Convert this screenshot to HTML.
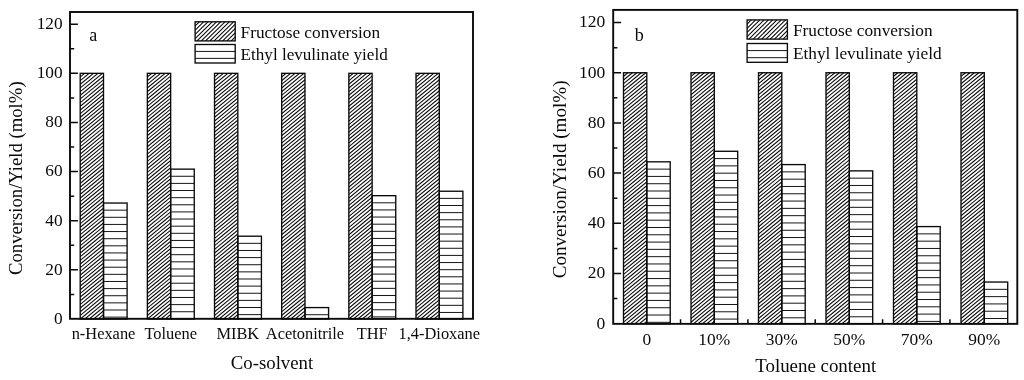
<!DOCTYPE html><html><head><meta charset="utf-8"><title>Figure</title>
<style>html,body{margin:0;padding:0;background:#fff}svg{display:block}text{font-family:'Liberation Serif', 'Times New Roman', serif;fill:#0a0a0a}</style></head><body>
<svg width="1024" height="380" viewBox="0 0 1024 380">
<rect width="1024" height="380" fill="#fff"/>
<clipPath id="c1"><rect x="80.20" y="73.33" width="23.30" height="245.67"/></clipPath>
<path clip-path="url(#c1)" d="M-222.27 319.00L75.75 73.33M-217.82 319.00L80.20 73.33M-213.37 319.00L84.65 73.33M-208.92 319.00L89.10 73.33M-204.47 319.00L93.55 73.33M-200.02 319.00L98.00 73.33M-195.57 319.00L102.45 73.33M-191.12 319.00L106.90 73.33M-186.67 319.00L111.35 73.33M-182.22 319.00L115.80 73.33M-177.77 319.00L120.25 73.33M-173.32 319.00L124.70 73.33M-168.87 319.00L129.15 73.33M-164.42 319.00L133.60 73.33M-159.97 319.00L138.05 73.33M-155.52 319.00L142.50 73.33M-151.07 319.00L146.95 73.33M-146.62 319.00L151.40 73.33M-142.17 319.00L155.85 73.33M-137.72 319.00L160.30 73.33M-133.27 319.00L164.75 73.33M-128.82 319.00L169.20 73.33M-124.37 319.00L173.65 73.33M-119.92 319.00L178.10 73.33M-115.47 319.00L182.55 73.33M-111.02 319.00L187.00 73.33M-106.57 319.00L191.45 73.33M-102.12 319.00L195.90 73.33M-97.67 319.00L200.35 73.33M-93.22 319.00L204.80 73.33M-88.77 319.00L209.25 73.33M-84.32 319.00L213.70 73.33M-79.87 319.00L218.15 73.33M-75.42 319.00L222.60 73.33M-70.97 319.00L227.05 73.33M-66.52 319.00L231.50 73.33M-62.07 319.00L235.95 73.33M-57.62 319.00L240.40 73.33M-53.17 319.00L244.85 73.33M-48.72 319.00L249.30 73.33M-44.27 319.00L253.75 73.33M-39.82 319.00L258.20 73.33M-35.37 319.00L262.65 73.33M-30.92 319.00L267.10 73.33M-26.47 319.00L271.55 73.33M-22.02 319.00L276.00 73.33M-17.57 319.00L280.45 73.33M-13.12 319.00L284.90 73.33M-8.67 319.00L289.35 73.33M-4.22 319.00L293.80 73.33M0.23 319.00L298.25 73.33M4.68 319.00L302.70 73.33M9.13 319.00L307.15 73.33M13.58 319.00L311.60 73.33M18.03 319.00L316.05 73.33M22.48 319.00L320.50 73.33M26.93 319.00L324.95 73.33M31.38 319.00L329.40 73.33M35.83 319.00L333.85 73.33M40.28 319.00L338.30 73.33M44.73 319.00L342.75 73.33M49.18 319.00L347.20 73.33M53.63 319.00L351.65 73.33M58.08 319.00L356.10 73.33M62.53 319.00L360.55 73.33M66.98 319.00L365.00 73.33M71.43 319.00L369.45 73.33M75.88 319.00L373.90 73.33M80.33 319.00L378.35 73.33M84.78 319.00L382.80 73.33M89.23 319.00L387.25 73.33M93.68 319.00L391.70 73.33M98.13 319.00L396.15 73.33M102.58 319.00L400.60 73.33M107.03 319.00L405.05 73.33" stroke="#0a0a0a" stroke-width="1.08" fill="none"/>
<rect x="80.20" y="73.33" width="23.30" height="245.67" fill="none" stroke="#0a0a0a" stroke-width="1.35"/>
<path d="M103.50 210.17H127.10M103.50 217.30H127.10M103.50 224.43H127.10M103.50 231.56H127.10M103.50 238.69H127.10M103.50 245.82H127.10M103.50 252.95H127.10M103.50 260.08H127.10M103.50 267.21H127.10M103.50 274.34H127.10M103.50 281.47H127.10M103.50 288.60H127.10M103.50 295.73H127.10M103.50 302.86H127.10M103.50 309.99H127.10M103.50 317.12H127.10" stroke="#161616" stroke-width="1.0" fill="none"/>
<rect x="103.50" y="203.04" width="23.60" height="115.96" fill="none" stroke="#0a0a0a" stroke-width="1.35"/>
<clipPath id="c2"><rect x="147.36" y="73.33" width="23.30" height="245.67"/></clipPath>
<path clip-path="url(#c2)" d="M-155.11 319.00L142.91 73.33M-150.66 319.00L147.36 73.33M-146.21 319.00L151.81 73.33M-141.76 319.00L156.26 73.33M-137.31 319.00L160.71 73.33M-132.86 319.00L165.16 73.33M-128.41 319.00L169.61 73.33M-123.96 319.00L174.06 73.33M-119.51 319.00L178.51 73.33M-115.06 319.00L182.96 73.33M-110.61 319.00L187.41 73.33M-106.16 319.00L191.86 73.33M-101.71 319.00L196.31 73.33M-97.26 319.00L200.76 73.33M-92.81 319.00L205.21 73.33M-88.36 319.00L209.66 73.33M-83.91 319.00L214.11 73.33M-79.46 319.00L218.56 73.33M-75.01 319.00L223.01 73.33M-70.56 319.00L227.46 73.33M-66.11 319.00L231.91 73.33M-61.66 319.00L236.36 73.33M-57.21 319.00L240.81 73.33M-52.76 319.00L245.26 73.33M-48.31 319.00L249.71 73.33M-43.86 319.00L254.16 73.33M-39.41 319.00L258.61 73.33M-34.96 319.00L263.06 73.33M-30.51 319.00L267.51 73.33M-26.06 319.00L271.96 73.33M-21.61 319.00L276.41 73.33M-17.16 319.00L280.86 73.33M-12.71 319.00L285.31 73.33M-8.26 319.00L289.76 73.33M-3.81 319.00L294.21 73.33M0.64 319.00L298.66 73.33M5.09 319.00L303.11 73.33M9.54 319.00L307.56 73.33M13.99 319.00L312.01 73.33M18.44 319.00L316.46 73.33M22.89 319.00L320.91 73.33M27.34 319.00L325.36 73.33M31.79 319.00L329.81 73.33M36.24 319.00L334.26 73.33M40.69 319.00L338.71 73.33M45.14 319.00L343.16 73.33M49.59 319.00L347.61 73.33M54.04 319.00L352.06 73.33M58.49 319.00L356.51 73.33M62.94 319.00L360.96 73.33M67.39 319.00L365.41 73.33M71.84 319.00L369.86 73.33M76.29 319.00L374.31 73.33M80.74 319.00L378.76 73.33M85.19 319.00L383.21 73.33M89.64 319.00L387.66 73.33M94.09 319.00L392.11 73.33M98.54 319.00L396.56 73.33M102.99 319.00L401.01 73.33M107.44 319.00L405.46 73.33M111.89 319.00L409.91 73.33M116.34 319.00L414.36 73.33M120.79 319.00L418.81 73.33M125.24 319.00L423.26 73.33M129.69 319.00L427.71 73.33M134.14 319.00L432.16 73.33M138.59 319.00L436.61 73.33M143.04 319.00L441.06 73.33M147.49 319.00L445.51 73.33M151.94 319.00L449.96 73.33M156.39 319.00L454.41 73.33M160.84 319.00L458.86 73.33M165.29 319.00L463.31 73.33M169.74 319.00L467.76 73.33M174.19 319.00L472.21 73.33" stroke="#0a0a0a" stroke-width="1.08" fill="none"/>
<rect x="147.36" y="73.33" width="23.30" height="245.67" fill="none" stroke="#0a0a0a" stroke-width="1.35"/>
<path d="M170.66 176.27H194.26M170.66 183.40H194.26M170.66 190.53H194.26M170.66 197.66H194.26M170.66 204.79H194.26M170.66 211.92H194.26M170.66 219.05H194.26M170.66 226.18H194.26M170.66 233.31H194.26M170.66 240.44H194.26M170.66 247.57H194.26M170.66 254.70H194.26M170.66 261.83H194.26M170.66 268.96H194.26M170.66 276.09H194.26M170.66 283.22H194.26M170.66 290.35H194.26M170.66 297.48H194.26M170.66 304.61H194.26M170.66 311.74H194.26" stroke="#161616" stroke-width="1.0" fill="none"/>
<rect x="170.66" y="169.14" width="23.60" height="149.86" fill="none" stroke="#0a0a0a" stroke-width="1.35"/>
<clipPath id="c3"><rect x="214.52" y="73.33" width="23.30" height="245.67"/></clipPath>
<path clip-path="url(#c3)" d="M-87.95 319.00L210.07 73.33M-83.50 319.00L214.52 73.33M-79.05 319.00L218.97 73.33M-74.60 319.00L223.42 73.33M-70.15 319.00L227.87 73.33M-65.70 319.00L232.32 73.33M-61.25 319.00L236.77 73.33M-56.80 319.00L241.22 73.33M-52.35 319.00L245.67 73.33M-47.90 319.00L250.12 73.33M-43.45 319.00L254.57 73.33M-39.00 319.00L259.02 73.33M-34.55 319.00L263.47 73.33M-30.10 319.00L267.92 73.33M-25.65 319.00L272.37 73.33M-21.20 319.00L276.82 73.33M-16.75 319.00L281.27 73.33M-12.30 319.00L285.72 73.33M-7.85 319.00L290.17 73.33M-3.40 319.00L294.62 73.33M1.05 319.00L299.07 73.33M5.50 319.00L303.52 73.33M9.95 319.00L307.97 73.33M14.40 319.00L312.42 73.33M18.85 319.00L316.87 73.33M23.30 319.00L321.32 73.33M27.75 319.00L325.77 73.33M32.20 319.00L330.22 73.33M36.65 319.00L334.67 73.33M41.10 319.00L339.12 73.33M45.55 319.00L343.57 73.33M50.00 319.00L348.02 73.33M54.45 319.00L352.47 73.33M58.90 319.00L356.92 73.33M63.35 319.00L361.37 73.33M67.80 319.00L365.82 73.33M72.25 319.00L370.27 73.33M76.70 319.00L374.72 73.33M81.15 319.00L379.17 73.33M85.60 319.00L383.62 73.33M90.05 319.00L388.07 73.33M94.50 319.00L392.52 73.33M98.95 319.00L396.97 73.33M103.40 319.00L401.42 73.33M107.85 319.00L405.87 73.33M112.30 319.00L410.32 73.33M116.75 319.00L414.77 73.33M121.20 319.00L419.22 73.33M125.65 319.00L423.67 73.33M130.10 319.00L428.12 73.33M134.55 319.00L432.57 73.33M139.00 319.00L437.02 73.33M143.45 319.00L441.47 73.33M147.90 319.00L445.92 73.33M152.35 319.00L450.37 73.33M156.80 319.00L454.82 73.33M161.25 319.00L459.27 73.33M165.70 319.00L463.72 73.33M170.15 319.00L468.17 73.33M174.60 319.00L472.62 73.33M179.05 319.00L477.07 73.33M183.50 319.00L481.52 73.33M187.95 319.00L485.97 73.33M192.40 319.00L490.42 73.33M196.85 319.00L494.87 73.33M201.30 319.00L499.32 73.33M205.75 319.00L503.77 73.33M210.20 319.00L508.22 73.33M214.65 319.00L512.67 73.33M219.10 319.00L517.12 73.33M223.55 319.00L521.57 73.33M228.00 319.00L526.02 73.33M232.45 319.00L530.47 73.33M236.90 319.00L534.92 73.33M241.35 319.00L539.37 73.33" stroke="#0a0a0a" stroke-width="1.08" fill="none"/>
<rect x="214.52" y="73.33" width="23.30" height="245.67" fill="none" stroke="#0a0a0a" stroke-width="1.35"/>
<path d="M237.82 243.34H261.42M237.82 250.47H261.42M237.82 257.60H261.42M237.82 264.73H261.42M237.82 271.86H261.42M237.82 278.99H261.42M237.82 286.12H261.42M237.82 293.25H261.42M237.82 300.38H261.42M237.82 307.51H261.42M237.82 314.64H261.42" stroke="#161616" stroke-width="1.0" fill="none"/>
<rect x="237.82" y="236.21" width="23.60" height="82.79" fill="none" stroke="#0a0a0a" stroke-width="1.35"/>
<clipPath id="c4"><rect x="281.68" y="73.33" width="23.30" height="245.67"/></clipPath>
<path clip-path="url(#c4)" d="M-20.79 319.00L277.23 73.33M-16.34 319.00L281.68 73.33M-11.89 319.00L286.13 73.33M-7.44 319.00L290.58 73.33M-2.99 319.00L295.03 73.33M1.46 319.00L299.48 73.33M5.91 319.00L303.93 73.33M10.36 319.00L308.38 73.33M14.81 319.00L312.83 73.33M19.26 319.00L317.28 73.33M23.71 319.00L321.73 73.33M28.16 319.00L326.18 73.33M32.61 319.00L330.63 73.33M37.06 319.00L335.08 73.33M41.51 319.00L339.53 73.33M45.96 319.00L343.98 73.33M50.41 319.00L348.43 73.33M54.86 319.00L352.88 73.33M59.31 319.00L357.33 73.33M63.76 319.00L361.78 73.33M68.21 319.00L366.23 73.33M72.66 319.00L370.68 73.33M77.11 319.00L375.13 73.33M81.56 319.00L379.58 73.33M86.01 319.00L384.03 73.33M90.46 319.00L388.48 73.33M94.91 319.00L392.93 73.33M99.36 319.00L397.38 73.33M103.81 319.00L401.83 73.33M108.26 319.00L406.28 73.33M112.71 319.00L410.73 73.33M117.16 319.00L415.18 73.33M121.61 319.00L419.63 73.33M126.06 319.00L424.08 73.33M130.51 319.00L428.53 73.33M134.96 319.00L432.98 73.33M139.41 319.00L437.43 73.33M143.86 319.00L441.88 73.33M148.31 319.00L446.33 73.33M152.76 319.00L450.78 73.33M157.21 319.00L455.23 73.33M161.66 319.00L459.68 73.33M166.11 319.00L464.13 73.33M170.56 319.00L468.58 73.33M175.01 319.00L473.03 73.33M179.46 319.00L477.48 73.33M183.91 319.00L481.93 73.33M188.36 319.00L486.38 73.33M192.81 319.00L490.83 73.33M197.26 319.00L495.28 73.33M201.71 319.00L499.73 73.33M206.16 319.00L504.18 73.33M210.61 319.00L508.63 73.33M215.06 319.00L513.08 73.33M219.51 319.00L517.53 73.33M223.96 319.00L521.98 73.33M228.41 319.00L526.43 73.33M232.86 319.00L530.88 73.33M237.31 319.00L535.33 73.33M241.76 319.00L539.78 73.33M246.21 319.00L544.23 73.33M250.66 319.00L548.68 73.33M255.11 319.00L553.13 73.33M259.56 319.00L557.58 73.33M264.01 319.00L562.03 73.33M268.46 319.00L566.48 73.33M272.91 319.00L570.93 73.33M277.36 319.00L575.38 73.33M281.81 319.00L579.83 73.33M286.26 319.00L584.28 73.33M290.71 319.00L588.73 73.33M295.16 319.00L593.18 73.33M299.61 319.00L597.63 73.33M304.06 319.00L602.08 73.33M308.51 319.00L606.53 73.33" stroke="#0a0a0a" stroke-width="1.08" fill="none"/>
<rect x="281.68" y="73.33" width="23.30" height="245.67" fill="none" stroke="#0a0a0a" stroke-width="1.35"/>
<path d="M304.98 314.71H328.58" stroke="#161616" stroke-width="1.0" fill="none"/>
<rect x="304.98" y="307.58" width="23.60" height="11.42" fill="none" stroke="#0a0a0a" stroke-width="1.35"/>
<clipPath id="c5"><rect x="348.84" y="73.33" width="23.30" height="245.67"/></clipPath>
<path clip-path="url(#c5)" d="M46.37 319.00L344.39 73.33M50.82 319.00L348.84 73.33M55.27 319.00L353.29 73.33M59.72 319.00L357.74 73.33M64.17 319.00L362.19 73.33M68.62 319.00L366.64 73.33M73.07 319.00L371.09 73.33M77.52 319.00L375.54 73.33M81.97 319.00L379.99 73.33M86.42 319.00L384.44 73.33M90.87 319.00L388.89 73.33M95.32 319.00L393.34 73.33M99.77 319.00L397.79 73.33M104.22 319.00L402.24 73.33M108.67 319.00L406.69 73.33M113.12 319.00L411.14 73.33M117.57 319.00L415.59 73.33M122.02 319.00L420.04 73.33M126.47 319.00L424.49 73.33M130.92 319.00L428.94 73.33M135.37 319.00L433.39 73.33M139.82 319.00L437.84 73.33M144.27 319.00L442.29 73.33M148.72 319.00L446.74 73.33M153.17 319.00L451.19 73.33M157.62 319.00L455.64 73.33M162.07 319.00L460.09 73.33M166.52 319.00L464.54 73.33M170.97 319.00L468.99 73.33M175.42 319.00L473.44 73.33M179.87 319.00L477.89 73.33M184.32 319.00L482.34 73.33M188.77 319.00L486.79 73.33M193.22 319.00L491.24 73.33M197.67 319.00L495.69 73.33M202.12 319.00L500.14 73.33M206.57 319.00L504.59 73.33M211.02 319.00L509.04 73.33M215.47 319.00L513.49 73.33M219.92 319.00L517.94 73.33M224.37 319.00L522.39 73.33M228.82 319.00L526.84 73.33M233.27 319.00L531.29 73.33M237.72 319.00L535.74 73.33M242.17 319.00L540.19 73.33M246.62 319.00L544.64 73.33M251.07 319.00L549.09 73.33M255.52 319.00L553.54 73.33M259.97 319.00L557.99 73.33M264.42 319.00L562.44 73.33M268.87 319.00L566.89 73.33M273.32 319.00L571.34 73.33M277.77 319.00L575.79 73.33M282.22 319.00L580.24 73.33M286.67 319.00L584.69 73.33M291.12 319.00L589.14 73.33M295.57 319.00L593.59 73.33M300.02 319.00L598.04 73.33M304.47 319.00L602.49 73.33M308.92 319.00L606.94 73.33M313.37 319.00L611.39 73.33M317.82 319.00L615.84 73.33M322.27 319.00L620.29 73.33M326.72 319.00L624.74 73.33M331.17 319.00L629.19 73.33M335.62 319.00L633.64 73.33M340.07 319.00L638.09 73.33M344.52 319.00L642.54 73.33M348.97 319.00L646.99 73.33M353.42 319.00L651.44 73.33M357.87 319.00L655.89 73.33M362.32 319.00L660.34 73.33M366.77 319.00L664.79 73.33M371.22 319.00L669.24 73.33M375.67 319.00L673.69 73.33" stroke="#0a0a0a" stroke-width="1.08" fill="none"/>
<rect x="348.84" y="73.33" width="23.30" height="245.67" fill="none" stroke="#0a0a0a" stroke-width="1.35"/>
<path d="M372.14 202.80H395.74M372.14 209.93H395.74M372.14 217.06H395.74M372.14 224.19H395.74M372.14 231.32H395.74M372.14 238.45H395.74M372.14 245.58H395.74M372.14 252.71H395.74M372.14 259.84H395.74M372.14 266.97H395.74M372.14 274.10H395.74M372.14 281.23H395.74M372.14 288.36H395.74M372.14 295.49H395.74M372.14 302.62H395.74M372.14 309.75H395.74M372.14 316.88H395.74" stroke="#161616" stroke-width="1.0" fill="none"/>
<rect x="372.14" y="195.67" width="23.60" height="123.33" fill="none" stroke="#0a0a0a" stroke-width="1.35"/>
<clipPath id="c6"><rect x="416.00" y="73.33" width="23.30" height="245.67"/></clipPath>
<path clip-path="url(#c6)" d="M113.53 319.00L411.55 73.33M117.98 319.00L416.00 73.33M122.43 319.00L420.45 73.33M126.88 319.00L424.90 73.33M131.33 319.00L429.35 73.33M135.78 319.00L433.80 73.33M140.23 319.00L438.25 73.33M144.68 319.00L442.70 73.33M149.13 319.00L447.15 73.33M153.58 319.00L451.60 73.33M158.03 319.00L456.05 73.33M162.48 319.00L460.50 73.33M166.93 319.00L464.95 73.33M171.38 319.00L469.40 73.33M175.83 319.00L473.85 73.33M180.28 319.00L478.30 73.33M184.73 319.00L482.75 73.33M189.18 319.00L487.20 73.33M193.63 319.00L491.65 73.33M198.08 319.00L496.10 73.33M202.53 319.00L500.55 73.33M206.98 319.00L505.00 73.33M211.43 319.00L509.45 73.33M215.88 319.00L513.90 73.33M220.33 319.00L518.35 73.33M224.78 319.00L522.80 73.33M229.23 319.00L527.25 73.33M233.68 319.00L531.70 73.33M238.13 319.00L536.15 73.33M242.58 319.00L540.60 73.33M247.03 319.00L545.05 73.33M251.48 319.00L549.50 73.33M255.93 319.00L553.95 73.33M260.38 319.00L558.40 73.33M264.83 319.00L562.85 73.33M269.28 319.00L567.30 73.33M273.73 319.00L571.75 73.33M278.18 319.00L576.20 73.33M282.63 319.00L580.65 73.33M287.08 319.00L585.10 73.33M291.53 319.00L589.55 73.33M295.98 319.00L594.00 73.33M300.43 319.00L598.45 73.33M304.88 319.00L602.90 73.33M309.33 319.00L607.35 73.33M313.78 319.00L611.80 73.33M318.23 319.00L616.25 73.33M322.68 319.00L620.70 73.33M327.13 319.00L625.15 73.33M331.58 319.00L629.60 73.33M336.03 319.00L634.05 73.33M340.48 319.00L638.50 73.33M344.93 319.00L642.95 73.33M349.38 319.00L647.40 73.33M353.83 319.00L651.85 73.33M358.28 319.00L656.30 73.33M362.73 319.00L660.75 73.33M367.18 319.00L665.20 73.33M371.63 319.00L669.65 73.33M376.08 319.00L674.10 73.33M380.53 319.00L678.55 73.33M384.98 319.00L683.00 73.33M389.43 319.00L687.45 73.33M393.88 319.00L691.90 73.33M398.33 319.00L696.35 73.33M402.78 319.00L700.80 73.33M407.23 319.00L705.25 73.33M411.68 319.00L709.70 73.33M416.13 319.00L714.15 73.33M420.58 319.00L718.60 73.33M425.03 319.00L723.05 73.33M429.48 319.00L727.50 73.33M433.93 319.00L731.95 73.33M438.38 319.00L736.40 73.33M442.83 319.00L740.85 73.33" stroke="#0a0a0a" stroke-width="1.08" fill="none"/>
<rect x="416.00" y="73.33" width="23.30" height="245.67" fill="none" stroke="#0a0a0a" stroke-width="1.35"/>
<path d="M439.30 198.38H462.90M439.30 205.51H462.90M439.30 212.64H462.90M439.30 219.77H462.90M439.30 226.90H462.90M439.30 234.03H462.90M439.30 241.16H462.90M439.30 248.29H462.90M439.30 255.42H462.90M439.30 262.55H462.90M439.30 269.68H462.90M439.30 276.81H462.90M439.30 283.94H462.90M439.30 291.07H462.90M439.30 298.20H462.90M439.30 305.33H462.90M439.30 312.46H462.90" stroke="#161616" stroke-width="1.0" fill="none"/>
<rect x="439.30" y="191.25" width="23.60" height="127.75" fill="none" stroke="#0a0a0a" stroke-width="1.35"/>
<rect x="70.0" y="12.0" width="403.00" height="306.80" fill="none" stroke="#0a0a0a" stroke-width="1.9"/>
<path d="M70.00 294.43h4.2M70.00 269.87h7.9M70.00 245.30h4.2M70.00 220.73h7.9M70.00 196.16h4.2M70.00 171.60h7.9M70.00 147.03h4.2M70.00 122.46h7.9M70.00 97.90h4.2M70.00 73.33h7.9M70.00 48.76h4.2M70.00 24.20h7.9" stroke="#0a0a0a" stroke-width="1.5" fill="none"/>
<text x="62.60" y="323.84" font-size="17.3" text-anchor="end" >0</text>
<text x="62.60" y="274.70" font-size="17.3" text-anchor="end" >20</text>
<text x="62.60" y="225.57" font-size="17.3" text-anchor="end" >40</text>
<text x="62.60" y="176.44" font-size="17.3" text-anchor="end" >60</text>
<text x="62.60" y="127.30" font-size="17.3" text-anchor="end" >80</text>
<text x="62.60" y="78.17" font-size="17.3" text-anchor="end" >100</text>
<text x="62.60" y="29.03" font-size="17.3" text-anchor="end" >120</text>
<text x="103.50" y="338.60" font-size="16.4" text-anchor="middle" >n-Hexane</text>
<text x="170.66" y="338.60" font-size="16.4" text-anchor="middle" >Toluene</text>
<text x="237.82" y="338.60" font-size="16.4" text-anchor="middle" >MIBK</text>
<text x="304.98" y="338.60" font-size="16.4" text-anchor="middle" >Acetonitrile</text>
<text x="372.14" y="338.60" font-size="16.4" text-anchor="middle" >THF</text>
<text x="439.30" y="338.60" font-size="16.4" text-anchor="middle" >1,4-Dioxane</text>
<text x="272.00" y="368.60" font-size="18.8" text-anchor="middle" >Co-solvent</text>
<text transform="translate(21.7 178.2) rotate(-90)" font-size="18.7" text-anchor="middle">Conversion/Yield (mol%)</text>
<clipPath id="c7"><rect x="195.10" y="21.80" width="40.10" height="19.10"/></clipPath>
<path clip-path="url(#c7)" d="M171.39 40.90L190.83 21.80M175.66 40.90L195.10 21.80M179.93 40.90L199.37 21.80M184.20 40.90L203.64 21.80M188.47 40.90L207.91 21.80M192.74 40.90L212.18 21.80M197.01 40.90L216.45 21.80M201.28 40.90L220.72 21.80M205.55 40.90L224.99 21.80M209.82 40.90L229.26 21.80M214.09 40.90L233.53 21.80M218.36 40.90L237.80 21.80M222.63 40.90L242.07 21.80M226.90 40.90L246.34 21.80M231.17 40.90L250.61 21.80M235.44 40.90L254.88 21.80" stroke="#0a0a0a" stroke-width="1.08" fill="none"/>
<rect x="195.10" y="21.80" width="40.10" height="19.10" fill="none" stroke="#0a0a0a" stroke-width="1.35"/>
<path d="M195.10 51.43H235.20M195.10 58.36H235.20" stroke="#161616" stroke-width="1.0" fill="none"/>
<rect x="195.10" y="44.50" width="40.10" height="18.50" fill="none" stroke="#0a0a0a" stroke-width="1.35"/>
<text x="240.60" y="37.70" font-size="17.28" text-anchor="start" >Fructose conversion</text>
<text x="240.60" y="59.80" font-size="17.1" text-anchor="start" >Ethyl levulinate yield</text>
<text x="89.30" y="40.80" font-size="18" text-anchor="start" >a</text>
<clipPath id="c8"><rect x="623.50" y="72.74" width="23.30" height="250.96"/></clipPath>
<path clip-path="url(#c8)" d="M314.61 323.70L619.05 72.74M319.06 323.70L623.50 72.74M323.51 323.70L627.95 72.74M327.96 323.70L632.40 72.74M332.41 323.70L636.85 72.74M336.86 323.70L641.30 72.74M341.31 323.70L645.75 72.74M345.76 323.70L650.20 72.74M350.21 323.70L654.65 72.74M354.66 323.70L659.10 72.74M359.11 323.70L663.55 72.74M363.56 323.70L668.00 72.74M368.01 323.70L672.45 72.74M372.46 323.70L676.90 72.74M376.91 323.70L681.35 72.74M381.36 323.70L685.80 72.74M385.81 323.70L690.25 72.74M390.26 323.70L694.70 72.74M394.71 323.70L699.15 72.74M399.16 323.70L703.60 72.74M403.61 323.70L708.05 72.74M408.06 323.70L712.50 72.74M412.51 323.70L716.95 72.74M416.96 323.70L721.40 72.74M421.41 323.70L725.85 72.74M425.86 323.70L730.30 72.74M430.31 323.70L734.75 72.74M434.76 323.70L739.20 72.74M439.21 323.70L743.65 72.74M443.66 323.70L748.10 72.74M448.11 323.70L752.55 72.74M452.56 323.70L757.00 72.74M457.01 323.70L761.45 72.74M461.46 323.70L765.90 72.74M465.91 323.70L770.35 72.74M470.36 323.70L774.80 72.74M474.81 323.70L779.25 72.74M479.26 323.70L783.70 72.74M483.71 323.70L788.15 72.74M488.16 323.70L792.60 72.74M492.61 323.70L797.05 72.74M497.06 323.70L801.50 72.74M501.51 323.70L805.95 72.74M505.96 323.70L810.40 72.74M510.41 323.70L814.85 72.74M514.86 323.70L819.30 72.74M519.31 323.70L823.75 72.74M523.76 323.70L828.20 72.74M528.21 323.70L832.65 72.74M532.66 323.70L837.10 72.74M537.11 323.70L841.55 72.74M541.56 323.70L846.00 72.74M546.01 323.70L850.45 72.74M550.46 323.70L854.90 72.74M554.91 323.70L859.35 72.74M559.36 323.70L863.80 72.74M563.81 323.70L868.25 72.74M568.26 323.70L872.70 72.74M572.71 323.70L877.15 72.74M577.16 323.70L881.60 72.74M581.61 323.70L886.05 72.74M586.06 323.70L890.50 72.74M590.51 323.70L894.95 72.74M594.96 323.70L899.40 72.74M599.41 323.70L903.85 72.74M603.86 323.70L908.30 72.74M608.31 323.70L912.75 72.74M612.76 323.70L917.20 72.74M617.21 323.70L921.65 72.74M621.66 323.70L926.10 72.74M626.11 323.70L930.55 72.74M630.56 323.70L935.00 72.74M635.01 323.70L939.45 72.74M639.46 323.70L943.90 72.74M643.91 323.70L948.35 72.74M648.36 323.70L952.80 72.74" stroke="#0a0a0a" stroke-width="1.08" fill="none"/>
<rect x="623.50" y="72.74" width="23.30" height="250.96" fill="none" stroke="#0a0a0a" stroke-width="1.35"/>
<path d="M646.80 169.13H670.20M646.80 176.42H670.20M646.80 183.72H670.20M646.80 191.01H670.20M646.80 198.31H670.20M646.80 205.60H670.20M646.80 212.90H670.20M646.80 220.19H670.20M646.80 227.49H670.20M646.80 234.78H670.20M646.80 242.08H670.20M646.80 249.37H670.20M646.80 256.67H670.20M646.80 263.96H670.20M646.80 271.26H670.20M646.80 278.55H670.20M646.80 285.85H670.20M646.80 293.14H670.20M646.80 300.44H670.20M646.80 307.73H670.20M646.80 315.03H670.20M646.80 322.32H670.20" stroke="#161616" stroke-width="1.0" fill="none"/>
<rect x="646.80" y="161.83" width="23.40" height="161.87" fill="none" stroke="#0a0a0a" stroke-width="1.35"/>
<clipPath id="c9"><rect x="691.00" y="72.74" width="23.30" height="250.96"/></clipPath>
<path clip-path="url(#c9)" d="M382.11 323.70L686.55 72.74M386.56 323.70L691.00 72.74M391.01 323.70L695.45 72.74M395.46 323.70L699.90 72.74M399.91 323.70L704.35 72.74M404.36 323.70L708.80 72.74M408.81 323.70L713.25 72.74M413.26 323.70L717.70 72.74M417.71 323.70L722.15 72.74M422.16 323.70L726.60 72.74M426.61 323.70L731.05 72.74M431.06 323.70L735.50 72.74M435.51 323.70L739.95 72.74M439.96 323.70L744.40 72.74M444.41 323.70L748.85 72.74M448.86 323.70L753.30 72.74M453.31 323.70L757.75 72.74M457.76 323.70L762.20 72.74M462.21 323.70L766.65 72.74M466.66 323.70L771.10 72.74M471.11 323.70L775.55 72.74M475.56 323.70L780.00 72.74M480.01 323.70L784.45 72.74M484.46 323.70L788.90 72.74M488.91 323.70L793.35 72.74M493.36 323.70L797.80 72.74M497.81 323.70L802.25 72.74M502.26 323.70L806.70 72.74M506.71 323.70L811.15 72.74M511.16 323.70L815.60 72.74M515.61 323.70L820.05 72.74M520.06 323.70L824.50 72.74M524.51 323.70L828.95 72.74M528.96 323.70L833.40 72.74M533.41 323.70L837.85 72.74M537.86 323.70L842.30 72.74M542.31 323.70L846.75 72.74M546.76 323.70L851.20 72.74M551.21 323.70L855.65 72.74M555.66 323.70L860.10 72.74M560.11 323.70L864.55 72.74M564.56 323.70L869.00 72.74M569.01 323.70L873.45 72.74M573.46 323.70L877.90 72.74M577.91 323.70L882.35 72.74M582.36 323.70L886.80 72.74M586.81 323.70L891.25 72.74M591.26 323.70L895.70 72.74M595.71 323.70L900.15 72.74M600.16 323.70L904.60 72.74M604.61 323.70L909.05 72.74M609.06 323.70L913.50 72.74M613.51 323.70L917.95 72.74M617.96 323.70L922.40 72.74M622.41 323.70L926.85 72.74M626.86 323.70L931.30 72.74M631.31 323.70L935.75 72.74M635.76 323.70L940.20 72.74M640.21 323.70L944.65 72.74M644.66 323.70L949.10 72.74M649.11 323.70L953.55 72.74M653.56 323.70L958.00 72.74M658.01 323.70L962.45 72.74M662.46 323.70L966.90 72.74M666.91 323.70L971.35 72.74M671.36 323.70L975.80 72.74M675.81 323.70L980.25 72.74M680.26 323.70L984.70 72.74M684.71 323.70L989.15 72.74M689.16 323.70L993.60 72.74M693.61 323.70L998.05 72.74M698.06 323.70L1002.50 72.74M702.51 323.70L1006.95 72.74M706.96 323.70L1011.40 72.74M711.41 323.70L1015.85 72.74M715.86 323.70L1020.30 72.74" stroke="#0a0a0a" stroke-width="1.08" fill="none"/>
<rect x="691.00" y="72.74" width="23.30" height="250.96" fill="none" stroke="#0a0a0a" stroke-width="1.35"/>
<path d="M714.30 158.59H737.70M714.30 165.88H737.70M714.30 173.18H737.70M714.30 180.47H737.70M714.30 187.77H737.70M714.30 195.06H737.70M714.30 202.36H737.70M714.30 209.65H737.70M714.30 216.95H737.70M714.30 224.24H737.70M714.30 231.54H737.70M714.30 238.83H737.70M714.30 246.13H737.70M714.30 253.42H737.70M714.30 260.72H737.70M714.30 268.01H737.70M714.30 275.31H737.70M714.30 282.60H737.70M714.30 289.90H737.70M714.30 297.19H737.70M714.30 304.49H737.70M714.30 311.78H737.70M714.30 319.08H737.70" stroke="#161616" stroke-width="1.0" fill="none"/>
<rect x="714.30" y="151.29" width="23.40" height="172.41" fill="none" stroke="#0a0a0a" stroke-width="1.35"/>
<clipPath id="c10"><rect x="758.50" y="72.74" width="23.30" height="250.96"/></clipPath>
<path clip-path="url(#c10)" d="M449.61 323.70L754.05 72.74M454.06 323.70L758.50 72.74M458.51 323.70L762.95 72.74M462.96 323.70L767.40 72.74M467.41 323.70L771.85 72.74M471.86 323.70L776.30 72.74M476.31 323.70L780.75 72.74M480.76 323.70L785.20 72.74M485.21 323.70L789.65 72.74M489.66 323.70L794.10 72.74M494.11 323.70L798.55 72.74M498.56 323.70L803.00 72.74M503.01 323.70L807.45 72.74M507.46 323.70L811.90 72.74M511.91 323.70L816.35 72.74M516.36 323.70L820.80 72.74M520.81 323.70L825.25 72.74M525.26 323.70L829.70 72.74M529.71 323.70L834.15 72.74M534.16 323.70L838.60 72.74M538.61 323.70L843.05 72.74M543.06 323.70L847.50 72.74M547.51 323.70L851.95 72.74M551.96 323.70L856.40 72.74M556.41 323.70L860.85 72.74M560.86 323.70L865.30 72.74M565.31 323.70L869.75 72.74M569.76 323.70L874.20 72.74M574.21 323.70L878.65 72.74M578.66 323.70L883.10 72.74M583.11 323.70L887.55 72.74M587.56 323.70L892.00 72.74M592.01 323.70L896.45 72.74M596.46 323.70L900.90 72.74M600.91 323.70L905.35 72.74M605.36 323.70L909.80 72.74M609.81 323.70L914.25 72.74M614.26 323.70L918.70 72.74M618.71 323.70L923.15 72.74M623.16 323.70L927.60 72.74M627.61 323.70L932.05 72.74M632.06 323.70L936.50 72.74M636.51 323.70L940.95 72.74M640.96 323.70L945.40 72.74M645.41 323.70L949.85 72.74M649.86 323.70L954.30 72.74M654.31 323.70L958.75 72.74M658.76 323.70L963.20 72.74M663.21 323.70L967.65 72.74M667.66 323.70L972.10 72.74M672.11 323.70L976.55 72.74M676.56 323.70L981.00 72.74M681.01 323.70L985.45 72.74M685.46 323.70L989.90 72.74M689.91 323.70L994.35 72.74M694.36 323.70L998.80 72.74M698.81 323.70L1003.25 72.74M703.26 323.70L1007.70 72.74M707.71 323.70L1012.15 72.74M712.16 323.70L1016.60 72.74M716.61 323.70L1021.05 72.74M721.06 323.70L1025.50 72.74M725.51 323.70L1029.95 72.74M729.96 323.70L1034.40 72.74M734.41 323.70L1038.85 72.74M738.86 323.70L1043.30 72.74M743.31 323.70L1047.75 72.74M747.76 323.70L1052.20 72.74M752.21 323.70L1056.65 72.74M756.66 323.70L1061.10 72.74M761.11 323.70L1065.55 72.74M765.56 323.70L1070.00 72.74M770.01 323.70L1074.45 72.74M774.46 323.70L1078.90 72.74M778.91 323.70L1083.35 72.74M783.36 323.70L1087.80 72.74" stroke="#0a0a0a" stroke-width="1.08" fill="none"/>
<rect x="758.50" y="72.74" width="23.30" height="250.96" fill="none" stroke="#0a0a0a" stroke-width="1.35"/>
<path d="M781.80 171.89H805.20M781.80 179.18H805.20M781.80 186.48H805.20M781.80 193.77H805.20M781.80 201.07H805.20M781.80 208.36H805.20M781.80 215.66H805.20M781.80 222.95H805.20M781.80 230.25H805.20M781.80 237.54H805.20M781.80 244.84H805.20M781.80 252.13H805.20M781.80 259.43H805.20M781.80 266.72H805.20M781.80 274.02H805.20M781.80 281.31H805.20M781.80 288.61H805.20M781.80 295.90H805.20M781.80 303.20H805.20M781.80 310.49H805.20M781.80 317.79H805.20" stroke="#161616" stroke-width="1.0" fill="none"/>
<rect x="781.80" y="164.59" width="23.40" height="159.11" fill="none" stroke="#0a0a0a" stroke-width="1.35"/>
<clipPath id="c11"><rect x="826.00" y="72.74" width="23.30" height="250.96"/></clipPath>
<path clip-path="url(#c11)" d="M517.11 323.70L821.55 72.74M521.56 323.70L826.00 72.74M526.01 323.70L830.45 72.74M530.46 323.70L834.90 72.74M534.91 323.70L839.35 72.74M539.36 323.70L843.80 72.74M543.81 323.70L848.25 72.74M548.26 323.70L852.70 72.74M552.71 323.70L857.15 72.74M557.16 323.70L861.60 72.74M561.61 323.70L866.05 72.74M566.06 323.70L870.50 72.74M570.51 323.70L874.95 72.74M574.96 323.70L879.40 72.74M579.41 323.70L883.85 72.74M583.86 323.70L888.30 72.74M588.31 323.70L892.75 72.74M592.76 323.70L897.20 72.74M597.21 323.70L901.65 72.74M601.66 323.70L906.10 72.74M606.11 323.70L910.55 72.74M610.56 323.70L915.00 72.74M615.01 323.70L919.45 72.74M619.46 323.70L923.90 72.74M623.91 323.70L928.35 72.74M628.36 323.70L932.80 72.74M632.81 323.70L937.25 72.74M637.26 323.70L941.70 72.74M641.71 323.70L946.15 72.74M646.16 323.70L950.60 72.74M650.61 323.70L955.05 72.74M655.06 323.70L959.50 72.74M659.51 323.70L963.95 72.74M663.96 323.70L968.40 72.74M668.41 323.70L972.85 72.74M672.86 323.70L977.30 72.74M677.31 323.70L981.75 72.74M681.76 323.70L986.20 72.74M686.21 323.70L990.65 72.74M690.66 323.70L995.10 72.74M695.11 323.70L999.55 72.74M699.56 323.70L1004.00 72.74M704.01 323.70L1008.45 72.74M708.46 323.70L1012.90 72.74M712.91 323.70L1017.35 72.74M717.36 323.70L1021.80 72.74M721.81 323.70L1026.25 72.74M726.26 323.70L1030.70 72.74M730.71 323.70L1035.15 72.74M735.16 323.70L1039.60 72.74M739.61 323.70L1044.05 72.74M744.06 323.70L1048.50 72.74M748.51 323.70L1052.95 72.74M752.96 323.70L1057.40 72.74M757.41 323.70L1061.85 72.74M761.86 323.70L1066.30 72.74M766.31 323.70L1070.75 72.74M770.76 323.70L1075.20 72.74M775.21 323.70L1079.65 72.74M779.66 323.70L1084.10 72.74M784.11 323.70L1088.55 72.74M788.56 323.70L1093.00 72.74M793.01 323.70L1097.45 72.74M797.46 323.70L1101.90 72.74M801.91 323.70L1106.35 72.74M806.36 323.70L1110.80 72.74M810.81 323.70L1115.25 72.74M815.26 323.70L1119.70 72.74M819.71 323.70L1124.15 72.74M824.16 323.70L1128.60 72.74M828.61 323.70L1133.05 72.74M833.06 323.70L1137.50 72.74M837.51 323.70L1141.95 72.74M841.96 323.70L1146.40 72.74M846.41 323.70L1150.85 72.74M850.86 323.70L1155.30 72.74" stroke="#0a0a0a" stroke-width="1.08" fill="none"/>
<rect x="826.00" y="72.74" width="23.30" height="250.96" fill="none" stroke="#0a0a0a" stroke-width="1.35"/>
<path d="M849.30 178.16H872.70M849.30 185.46H872.70M849.30 192.75H872.70M849.30 200.05H872.70M849.30 207.34H872.70M849.30 214.64H872.70M849.30 221.93H872.70M849.30 229.23H872.70M849.30 236.52H872.70M849.30 243.82H872.70M849.30 251.11H872.70M849.30 258.41H872.70M849.30 265.70H872.70M849.30 273.00H872.70M849.30 280.29H872.70M849.30 287.59H872.70M849.30 294.88H872.70M849.30 302.18H872.70M849.30 309.47H872.70M849.30 316.77H872.70" stroke="#161616" stroke-width="1.0" fill="none"/>
<rect x="849.30" y="170.87" width="23.40" height="152.83" fill="none" stroke="#0a0a0a" stroke-width="1.35"/>
<clipPath id="c12"><rect x="893.50" y="72.74" width="23.30" height="250.96"/></clipPath>
<path clip-path="url(#c12)" d="M584.61 323.70L889.05 72.74M589.06 323.70L893.50 72.74M593.51 323.70L897.95 72.74M597.96 323.70L902.40 72.74M602.41 323.70L906.85 72.74M606.86 323.70L911.30 72.74M611.31 323.70L915.75 72.74M615.76 323.70L920.20 72.74M620.21 323.70L924.65 72.74M624.66 323.70L929.10 72.74M629.11 323.70L933.55 72.74M633.56 323.70L938.00 72.74M638.01 323.70L942.45 72.74M642.46 323.70L946.90 72.74M646.91 323.70L951.35 72.74M651.36 323.70L955.80 72.74M655.81 323.70L960.25 72.74M660.26 323.70L964.70 72.74M664.71 323.70L969.15 72.74M669.16 323.70L973.60 72.74M673.61 323.70L978.05 72.74M678.06 323.70L982.50 72.74M682.51 323.70L986.95 72.74M686.96 323.70L991.40 72.74M691.41 323.70L995.85 72.74M695.86 323.70L1000.30 72.74M700.31 323.70L1004.75 72.74M704.76 323.70L1009.20 72.74M709.21 323.70L1013.65 72.74M713.66 323.70L1018.10 72.74M718.11 323.70L1022.55 72.74M722.56 323.70L1027.00 72.74M727.01 323.70L1031.45 72.74M731.46 323.70L1035.90 72.74M735.91 323.70L1040.35 72.74M740.36 323.70L1044.80 72.74M744.81 323.70L1049.25 72.74M749.26 323.70L1053.70 72.74M753.71 323.70L1058.15 72.74M758.16 323.70L1062.60 72.74M762.61 323.70L1067.05 72.74M767.06 323.70L1071.50 72.74M771.51 323.70L1075.95 72.74M775.96 323.70L1080.40 72.74M780.41 323.70L1084.85 72.74M784.86 323.70L1089.30 72.74M789.31 323.70L1093.75 72.74M793.76 323.70L1098.20 72.74M798.21 323.70L1102.65 72.74M802.66 323.70L1107.10 72.74M807.11 323.70L1111.55 72.74M811.56 323.70L1116.00 72.74M816.01 323.70L1120.45 72.74M820.46 323.70L1124.90 72.74M824.91 323.70L1129.35 72.74M829.36 323.70L1133.80 72.74M833.81 323.70L1138.25 72.74M838.26 323.70L1142.70 72.74M842.71 323.70L1147.15 72.74M847.16 323.70L1151.60 72.74M851.61 323.70L1156.05 72.74M856.06 323.70L1160.50 72.74M860.51 323.70L1164.95 72.74M864.96 323.70L1169.40 72.74M869.41 323.70L1173.85 72.74M873.86 323.70L1178.30 72.74M878.31 323.70L1182.75 72.74M882.76 323.70L1187.20 72.74M887.21 323.70L1191.65 72.74M891.66 323.70L1196.10 72.74M896.11 323.70L1200.55 72.74M900.56 323.70L1205.00 72.74M905.01 323.70L1209.45 72.74M909.46 323.70L1213.90 72.74M913.91 323.70L1218.35 72.74M918.36 323.70L1222.80 72.74" stroke="#0a0a0a" stroke-width="1.08" fill="none"/>
<rect x="893.50" y="72.74" width="23.30" height="250.96" fill="none" stroke="#0a0a0a" stroke-width="1.35"/>
<path d="M916.80 233.87H940.20M916.80 241.17H940.20M916.80 248.46H940.20M916.80 255.76H940.20M916.80 263.05H940.20M916.80 270.35H940.20M916.80 277.64H940.20M916.80 284.94H940.20M916.80 292.23H940.20M916.80 299.53H940.20M916.80 306.82H940.20M916.80 314.12H940.20M916.80 321.41H940.20" stroke="#161616" stroke-width="1.0" fill="none"/>
<rect x="916.80" y="226.58" width="23.40" height="97.12" fill="none" stroke="#0a0a0a" stroke-width="1.35"/>
<clipPath id="c13"><rect x="961.00" y="72.74" width="23.30" height="250.96"/></clipPath>
<path clip-path="url(#c13)" d="M652.11 323.70L956.55 72.74M656.56 323.70L961.00 72.74M661.01 323.70L965.45 72.74M665.46 323.70L969.90 72.74M669.91 323.70L974.35 72.74M674.36 323.70L978.80 72.74M678.81 323.70L983.25 72.74M683.26 323.70L987.70 72.74M687.71 323.70L992.15 72.74M692.16 323.70L996.60 72.74M696.61 323.70L1001.05 72.74M701.06 323.70L1005.50 72.74M705.51 323.70L1009.95 72.74M709.96 323.70L1014.40 72.74M714.41 323.70L1018.85 72.74M718.86 323.70L1023.30 72.74M723.31 323.70L1027.75 72.74M727.76 323.70L1032.20 72.74M732.21 323.70L1036.65 72.74M736.66 323.70L1041.10 72.74M741.11 323.70L1045.55 72.74M745.56 323.70L1050.00 72.74M750.01 323.70L1054.45 72.74M754.46 323.70L1058.90 72.74M758.91 323.70L1063.35 72.74M763.36 323.70L1067.80 72.74M767.81 323.70L1072.25 72.74M772.26 323.70L1076.70 72.74M776.71 323.70L1081.15 72.74M781.16 323.70L1085.60 72.74M785.61 323.70L1090.05 72.74M790.06 323.70L1094.50 72.74M794.51 323.70L1098.95 72.74M798.96 323.70L1103.40 72.74M803.41 323.70L1107.85 72.74M807.86 323.70L1112.30 72.74M812.31 323.70L1116.75 72.74M816.76 323.70L1121.20 72.74M821.21 323.70L1125.65 72.74M825.66 323.70L1130.10 72.74M830.11 323.70L1134.55 72.74M834.56 323.70L1139.00 72.74M839.01 323.70L1143.45 72.74M843.46 323.70L1147.90 72.74M847.91 323.70L1152.35 72.74M852.36 323.70L1156.80 72.74M856.81 323.70L1161.25 72.74M861.26 323.70L1165.70 72.74M865.71 323.70L1170.15 72.74M870.16 323.70L1174.60 72.74M874.61 323.70L1179.05 72.74M879.06 323.70L1183.50 72.74M883.51 323.70L1187.95 72.74M887.96 323.70L1192.40 72.74M892.41 323.70L1196.85 72.74M896.86 323.70L1201.30 72.74M901.31 323.70L1205.75 72.74M905.76 323.70L1210.20 72.74M910.21 323.70L1214.65 72.74M914.66 323.70L1219.10 72.74M919.11 323.70L1223.55 72.74M923.56 323.70L1228.00 72.74M928.01 323.70L1232.45 72.74M932.46 323.70L1236.90 72.74M936.91 323.70L1241.35 72.74M941.36 323.70L1245.80 72.74M945.81 323.70L1250.25 72.74M950.26 323.70L1254.70 72.74M954.71 323.70L1259.15 72.74M959.16 323.70L1263.60 72.74M963.61 323.70L1268.05 72.74M968.06 323.70L1272.50 72.74M972.51 323.70L1276.95 72.74M976.96 323.70L1281.40 72.74M981.41 323.70L1285.85 72.74M985.86 323.70L1290.30 72.74" stroke="#0a0a0a" stroke-width="1.08" fill="none"/>
<rect x="961.00" y="72.74" width="23.30" height="250.96" fill="none" stroke="#0a0a0a" stroke-width="1.35"/>
<path d="M984.30 289.34H1007.70M984.30 296.63H1007.70M984.30 303.93H1007.70M984.30 311.22H1007.70M984.30 318.52H1007.70" stroke="#161616" stroke-width="1.0" fill="none"/>
<rect x="984.30" y="282.04" width="23.40" height="41.66" fill="none" stroke="#0a0a0a" stroke-width="1.35"/>
<rect x="613.2" y="9.9" width="404.10" height="313.95" fill="none" stroke="#0a0a0a" stroke-width="1.9"/>
<path d="M613.20 298.60h4.2M613.20 273.51h7.9M613.20 248.41h4.2M613.20 223.32h7.9M613.20 198.22h4.2M613.20 173.12h7.9M613.20 148.03h4.2M613.20 122.93h7.9M613.20 97.84h4.2M613.20 72.74h7.9M613.20 47.64h4.2M613.20 22.55h7.9" stroke="#0a0a0a" stroke-width="1.5" fill="none"/>
<text x="605.30" y="328.61" font-size="17.5" text-anchor="end" >0</text>
<text x="605.30" y="278.41" font-size="17.5" text-anchor="end" >20</text>
<text x="605.30" y="228.22" font-size="17.5" text-anchor="end" >40</text>
<text x="605.30" y="178.03" font-size="17.5" text-anchor="end" >60</text>
<text x="605.30" y="127.84" font-size="17.5" text-anchor="end" >80</text>
<text x="605.30" y="77.65" font-size="17.5" text-anchor="end" >100</text>
<text x="605.30" y="27.45" font-size="17.5" text-anchor="end" >120</text>
<path d="M680.55 323.85v-4.6M747.90 323.85v-4.6M815.25 323.85v-4.6M882.60 323.85v-4.6M949.95 323.85v-4.6" stroke="#0a0a0a" stroke-width="1.5" fill="none"/>
<text x="646.80" y="344.50" font-size="17.4" text-anchor="middle" >0</text>
<text x="714.30" y="344.50" font-size="17.4" text-anchor="middle" >10%</text>
<text x="781.80" y="344.50" font-size="17.4" text-anchor="middle" >30%</text>
<text x="849.30" y="344.50" font-size="17.4" text-anchor="middle" >50%</text>
<text x="916.80" y="344.50" font-size="17.4" text-anchor="middle" >70%</text>
<text x="984.30" y="344.50" font-size="17.4" text-anchor="middle" >90%</text>
<text x="815.70" y="371.60" font-size="18.9" text-anchor="middle" >Toluene content</text>
<text transform="translate(566.4 179.35) rotate(-90)" font-size="19.1" text-anchor="middle">Conversion/Yield (mol%)</text>
<clipPath id="c14"><rect x="747.10" y="19.90" width="40.30" height="19.20"/></clipPath>
<path clip-path="url(#c14)" d="M723.29 39.10L742.83 19.90M727.56 39.10L747.10 19.90M731.83 39.10L751.37 19.90M736.10 39.10L755.64 19.90M740.37 39.10L759.91 19.90M744.64 39.10L764.18 19.90M748.91 39.10L768.45 19.90M753.18 39.10L772.72 19.90M757.45 39.10L776.99 19.90M761.72 39.10L781.26 19.90M765.99 39.10L785.53 19.90M770.26 39.10L789.80 19.90M774.53 39.10L794.07 19.90M778.80 39.10L798.34 19.90M783.07 39.10L802.61 19.90M787.34 39.10L806.88 19.90M791.61 39.10L811.15 19.90" stroke="#0a0a0a" stroke-width="1.08" fill="none"/>
<rect x="747.10" y="19.90" width="40.30" height="19.20" fill="none" stroke="#0a0a0a" stroke-width="1.35"/>
<path d="M747.10 50.59H787.40M747.10 57.69H787.40" stroke="#161616" stroke-width="1.0" fill="none"/>
<rect x="747.10" y="43.50" width="40.30" height="18.80" fill="none" stroke="#0a0a0a" stroke-width="1.35"/>
<text x="792.90" y="35.70" font-size="17.3" text-anchor="start" >Fructose conversion</text>
<text x="792.90" y="58.70" font-size="17.3" text-anchor="start" >Ethyl levulinate yield</text>
<text x="634.80" y="41.20" font-size="18" text-anchor="start" >b</text>
</svg></body></html>
